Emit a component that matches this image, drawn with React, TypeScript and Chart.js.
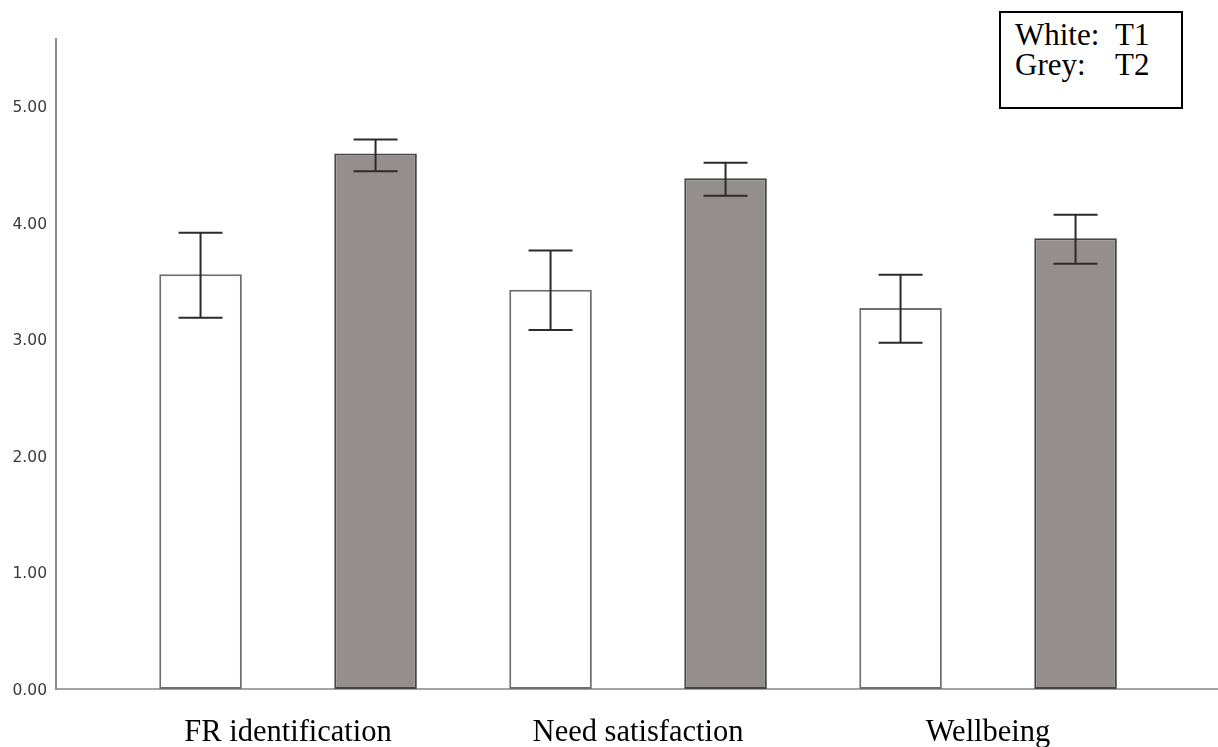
import React, { useEffect, useRef } from 'react';
import { Chart, registerables } from 'chart.js';

Chart.register(...registerables);

const categories = ['FR identification', 'Need satisfaction', 'Wellbeing'];
const categoryPositions = [0.663, 1.663, 2.663];
const xAxisMax = 3.32;

const t1Means = [3.557, 3.424, 3.268];
const t1Upper = [3.913, 3.762, 3.553];
const t1Lower = [3.184, 3.079, 2.97];

const t2Means = [4.594, 4.38, 3.865];
const t2Upper = [4.714, 4.514, 4.068];
const t2Lower = [4.44, 4.231, 3.648];

const yTicks = [0, 1, 2, 3, 4, 5];
const yMax = 5.575;

const errorBarPlugin = {
  id: 'errorBars',
  afterDatasetsDraw(chart: any) {
    const ctx = chart.ctx;
    const yScale = chart.scales.y;
    chart.data.datasets.forEach((ds: any, i: number) => {
      const meta = chart.getDatasetMeta(i);
      meta.data.forEach((bar: any, j: number) => {
        const x = bar.x;
        const yTop = yScale.getPixelForValue(ds.errUpper[j]);
        const yBot = yScale.getPixelForValue(ds.errLower[j]);
        const half = 22;
        ctx.save();
        ctx.strokeStyle = '#2b2b2b';
        ctx.lineWidth = 2;
        ctx.beginPath();
        ctx.moveTo(x, yTop);
        ctx.lineTo(x, yBot);
        ctx.moveTo(x - half, yTop);
        ctx.lineTo(x + half, yTop);
        ctx.moveTo(x - half, yBot);
        ctx.lineTo(x + half, yBot);
        ctx.stroke();
        ctx.restore();
      });
    });
  },
};

export default function App() {
  const canvasRef = useRef<HTMLCanvasElement | null>(null);

  useEffect(() => {
    document.body.style.margin = '0';
    const canvas = canvasRef.current;
    if (!canvas) return;
    const chart = new Chart(canvas, {
      type: 'bar',
      data: {
        datasets: [
          {
            label: 'T1',
            data: categoryPositions.map((x, i) => ({ x, y: t1Means[i] })),
            backgroundColor: '#ffffff',
            borderColor: '#6e6e6e',
            borderWidth: 2,
            borderSkipped: false,
            categoryPercentage: 1,
            barPercentage: 0.472,
            errUpper: t1Upper,
            errLower: t1Lower,
          } as any,
          {
            label: 'T2',
            data: categoryPositions.map((x, i) => ({ x, y: t2Means[i] })),
            backgroundColor: '#948f8e',
            borderColor: '#464646',
            borderWidth: 2,
            borderSkipped: false,
            categoryPercentage: 1,
            barPercentage: 0.472,
            errUpper: t2Upper,
            errLower: t2Lower,
          } as any,
        ],
      },
      options: {
        responsive: false,
        animation: false,
        layout: { padding: { top: 39, right: 0, left: 0, bottom: 0 } },
        plugins: {
          legend: { display: false },
          tooltip: { enabled: false },
        },
        scales: {
          x: {
            type: 'linear',
            min: 0,
            max: xAxisMax,
            offset: false,
            grid: { display: false, drawTicks: false, offset: false },
            border: { display: true, color: '#a3a3a3', width: 2 },
            afterBuildTicks: (scale: any) => {
              scale.ticks = categoryPositions.map((v) => ({ value: v }));
            },
            afterFit: (scale: any) => {
              scale.height = 58;
            },
            ticks: {
              autoSkip: false,
              maxRotation: 0,
              padding: 26,
              color: '#000000',
              font: { family: '"Liberation Serif", "Times New Roman", serif', size: 30.5 },
              callback: (_v: any, index: number) => categories[index],
            },
          },
          y: {
            min: 0,
            max: yMax,
            grid: { display: false, drawTicks: false },
            border: { display: true, color: '#8c8c8c', width: 2 },
            afterBuildTicks: (scale: any) => {
              scale.ticks = yTicks.map((v) => ({ value: v }));
            },
            afterFit: (scale: any) => {
              scale.width = 56;
            },
            ticks: {
              padding: 9,
              labelOffset: 2,
              color: '#3a3a3a',
              font: { family: '"DejaVu Sans", sans-serif', size: 15.5 },
              callback: (v: any) => Number(v).toFixed(2),
            },
          },
        },
      } as any,
      plugins: [errorBarPlugin],
    });
    return () => chart.destroy();
  }, []);

  return (
    <div style={{ position: 'relative', width: 1218, height: 747, background: '#ffffff' }}>
      <canvas ref={canvasRef} width={1218} height={747} style={{ display: 'block' }} />
      <div
        style={{
          position: 'absolute',
          left: 999,
          top: 11,
          width: 184,
          height: 98,
          boxSizing: 'border-box',
          border: '2px solid #000',
          background: '#fff',
          padding: '7px 0 0 14px',
          fontFamily: '"Liberation Serif", "Times New Roman", serif',
          fontSize: 31,
          lineHeight: '29.5px',
          color: '#000',
          display: 'grid',
          gridTemplateColumns: '100px auto',
          alignContent: 'start',
        }}
      >
        <span>White:</span>
        <span>T1</span>
        <span>Grey:</span>
        <span>T2</span>
      </div>
    </div>
  );
}
